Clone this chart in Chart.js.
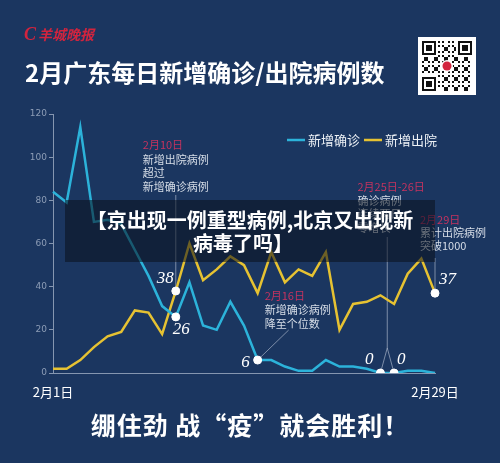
<!DOCTYPE html>
<html>
<head>
<meta charset="utf-8">
<script src="https://cdn.jsdelivr.net/npm/chart.js@4/dist/chart.umd.min.js"></script>
<style>
html,body{margin:0;padding:0;background:#1b3660;}
#wrap{position:relative;width:500px;height:463px;overflow:hidden;background:#1b3660;font-family:"Noto Sans CJK SC","Noto Sans",sans-serif;}
#c{position:absolute;left:0;top:0;}
.logo{position:absolute;left:24px;top:24px;height:20px;line-height:20px;color:#d2243e;font-size:14px;font-weight:bold;font-style:italic;white-space:nowrap;}
.logo b{font-family:"Liberation Serif",serif;font-size:18px;margin-right:2px;}
.title{position:absolute;left:25px;top:59px;height:26px;line-height:26px;color:#fff;font-size:24px;font-weight:700;white-space:nowrap;}
#qr{position:absolute;left:418px;top:37px;}
.footer{position:absolute;left:0;width:500px;top:411px;height:26px;line-height:26px;text-align:center;color:#fff;font-size:25px;font-weight:700;letter-spacing:1px;white-space:nowrap;}
.banner{position:absolute;left:65px;top:200px;width:370px;height:62px;background:rgba(10,16,28,0.55);}
.bl{position:absolute;height:22px;line-height:22px;color:#fff;font-size:20px;font-weight:700;white-space:nowrap;}
</style>
</head>
<body>
<div id="wrap">
  <canvas id="c" width="500" height="463"></canvas>
  <div class="logo"><b>C</b>羊城晚报</div>
  <div class="title">2月广东每日新增确诊/出院病例数</div>
  <canvas id="qr" width="58" height="58"></canvas>
  <div class="banner"></div>
  <div class="bl" style="left:0;width:500px;text-align:center;top:209px;">【京出现一例重型病例,北京又出现新</div>
  <div class="bl" style="left:193px;top:232px;">病毒了吗】</div>
  <div class="footer">绷住劲 战“疫”就会胜利！</div>
</div>
<script>
// ---- data ----
const days = ['2月1日','2月2日','2月3日','2月4日','2月5日','2月6日','2月7日','2月8日','2月9日','2月10日',
  '2月11日','2月12日','2月13日','2月14日','2月15日','2月16日','2月17日','2月18日','2月19日','2月20日',
  '2月21日','2月22日','2月23日','2月24日','2月25日','2月26日','2月27日','2月28日','2月29日'];
const confirmed  = [84,79,114,70,71,69,57,45,31,26,42,22,20,33,22,6,6,3,1,1,6,3,3,2,0,0,1,1,0];
const discharged = [2,2,6,12,17,19,29,28,18,38,60,43,48,54,50,37,56,42,48,45,56,20,32,33,36,32,46,53,37];
const seriesNames = ['新增确诊','新增出院'];
const yTickMin = 0, yTickMax = 120, yTickStep = 20;
const confirmedMarks = [9,15,24,25];
const dischargedMarks = [9,28];

const BLUE = '#2cb3da', YELLOW = '#e6c232', CRIMSON = '#c4335f', NOTE = '#d6dde7';

// ---- decorative QR-like box ----
(function(){
  const q = document.getElementById('qr').getContext('2d');
  q.fillStyle = '#fff'; q.fillRect(0,0,58,58);
  const m = 2, o = 4, n = 25;
  q.fillStyle = '#111';
  function finder(cx, cy){
    q.fillRect(o+cx*m, o+cy*m, 7*m, 7*m);
    q.fillStyle='#fff'; q.fillRect(o+(cx+1)*m, o+(cy+1)*m, 5*m, 5*m);
    q.fillStyle='#111'; q.fillRect(o+(cx+2)*m, o+(cy+2)*m, 3*m, 3*m);
  }
  for(let i=0;i<n;i++) for(let j=0;j<n;j++){
    const inF = (i<8&&j<8)||(i>n-9&&j<8)||(i<8&&j>n-9);
    if(inF) continue;
    if(((i*7 + j*13 + i*j*3) % 5) < 2) q.fillRect(o+i*m, o+j*m, m, m);
  }
  finder(0,0); finder(n-7,0); finder(0,n-7);
  q.fillStyle='#fff'; q.beginPath(); q.arc(29,29,6,0,Math.PI*2); q.fill();
  q.fillStyle='#d2243e'; q.beginPath(); q.arc(29,29,4.5,0,Math.PI*2); q.fill();
})();

// ---- annotation plugin ----
const annot = {
  id: 'annot',
  beforeDatasetsDraw(chart){
    const {ctx, scales:{x, y}} = chart;
    ctx.save();
    ctx.strokeStyle = 'rgba(205,214,228,0.55)';
    ctx.lineWidth = 1;
    const seg = (a,b,c,d)=>{ctx.beginPath();ctx.moveTo(a,b);ctx.lineTo(c,d);ctx.stroke();};
    const x10 = x.getPixelForValue(9);
    seg(x10, 195, x10, y.getPixelForValue(discharged[9]));
    const x16 = x.getPixelForValue(15), y16 = y.getPixelForValue(confirmed[15]);
    seg(x16, y16, x16 + 31, y16 - 30);
    const x25 = x.getPixelForValue(24), x26 = x.getPixelForValue(25);
    const xm = (x25 + x26) / 2;
    seg(xm, 237, xm, 348);
    seg(xm, 348, x25, y.getPixelForValue(confirmed[24]));
    seg(xm, 348, x26, y.getPixelForValue(confirmed[25]));
    const x29 = x.getPixelForValue(28);
    seg(x29, 258, x29, y.getPixelForValue(discharged[28]));
    ctx.restore();
  },
  afterDatasetsDraw(chart){
    const {ctx, scales:{x, y}} = chart;
    ctx.save();
    ctx.textBaseline = 'middle';
    ctx.textAlign = 'left';
    const note = (lines, lx, ys) => {
      ctx.font = '11px "Noto Sans CJK SC"';
      lines.forEach((t,i)=>{ ctx.fillStyle = i===0 ? CRIMSON : NOTE; ctx.fillText(t, lx, ys[i]); });
    };
    const x10 = x.getPixelForValue(9), x16 = x.getPixelForValue(15);
    const x25 = x.getPixelForValue(24), x29 = x.getPixelForValue(28);
    note(['2月10日','新增出院病例','超过','新增确诊病例'], x10 - 33, [145,159.5,173,186.5]);
    note(['2月16日','新增确诊病例','降至个位数'], x16 + 7, [295.5,310,323.5]);
    note(['2月25日-26日','确诊病例','连续两日','零增长'], x25 - 23, [187,200.5,214,227.5]);
    note(['2月29日','累计出院病例','突破1000'], x29 - 15, [220,233,246]);

    // value labels
    ctx.font = 'italic 17px "Liberation Serif"';
    ctx.fillStyle = '#ffffff';
    const lab = (t, px, py, align) => { ctx.textAlign = align; ctx.fillText(t, px, py); };
    const yd10 = y.getPixelForValue(discharged[9]), yc10 = y.getPixelForValue(confirmed[9]);
    lab(String(discharged[9]), x10 - 2, yd10 - 12, 'right');
    lab(String(confirmed[9]), x10 - 3, yc10 + 13, 'left');
    lab(String(confirmed[15]), x16 - 8, y.getPixelForValue(confirmed[15]) + 2, 'right');
    const x26 = x.getPixelForValue(25);
    lab(String(confirmed[24]), x25 - 7, y.getPixelForValue(confirmed[24]) - 13, 'right');
    lab(String(confirmed[25]), x26 + 3, y.getPixelForValue(confirmed[25]) - 13, 'left');
    lab(String(discharged[28]), x29 + 4, y.getPixelForValue(discharged[28]) - 14, 'left');

    // legend
    const ds = chart.data.datasets;
    const lx = [287, 364];
    ctx.font = '13px "Noto Sans CJK SC"';
    ctx.textAlign = 'left';
    ds.forEach((d,i)=>{
      ctx.strokeStyle = d.borderColor; ctx.lineWidth = 2.5;
      ctx.beginPath(); ctx.moveTo(lx[i], 140); ctx.lineTo(lx[i]+18, 140); ctx.stroke();
      ctx.fillStyle = '#eef2f6';
      ctx.fillText(d.label, lx[i] + 21, 140);
    });
    ctx.restore();
  }
};

new Chart(document.getElementById('c'), {
  type: 'line',
  data: {
    labels: days,
    datasets: [
      { label: seriesNames[0], data: confirmed, borderColor: BLUE, backgroundColor: BLUE,
        borderWidth: 2.5, tension: 0,
        pointRadius: c => confirmedMarks.includes(c.dataIndex) ? 4 : 0,
        pointBackgroundColor: '#fff', pointBorderColor: '#fff', pointBorderWidth: 1 },
      { label: seriesNames[1], data: discharged, borderColor: YELLOW, backgroundColor: YELLOW,
        borderWidth: 2.5, tension: 0,
        pointRadius: c => dischargedMarks.includes(c.dataIndex) ? 4 : 0,
        pointBackgroundColor: '#fff', pointBorderColor: '#fff', pointBorderWidth: 1 }
    ]
  },
  options: {
    responsive: false,
    animation: false,
    events: [],
    layout: { padding: { left: 0, right: 65, top: 114, bottom: 0 } },
    plugins: { legend: { display: false }, tooltip: { enabled: false } },
    scales: {
      x: {
        offset: false,
        grid: { display: false, drawTicks: false },
        border: { display: true, color: '#8596b0', width: 1 },
        ticks: {
          autoSkip: false, maxRotation: 0, minRotation: 0, padding: 11,
          color: '#ffffff', font: { size: 13, family: 'Noto Sans CJK SC' },
          callback: (v, i) => (i === 0 || i === days.length - 1) ? days[i] : ''
        },
        afterFit: s => { s.height = 90; }
      },
      y: {
        min: yTickMin, max: yTickMax,
        grid: { drawOnChartArea: false, drawTicks: true, tickLength: 4, color: '#8596b0' },
        border: { display: true, color: '#8596b0', width: 1 },
        ticks: { stepSize: yTickStep, padding: 2, color: '#8d9db6', font: { size: 9, family: 'DejaVu Sans' } },
        afterFit: s => { s.width = 53; }
      }
    }
  },
  plugins: [annot]
});
</script>
</body>
</html>
